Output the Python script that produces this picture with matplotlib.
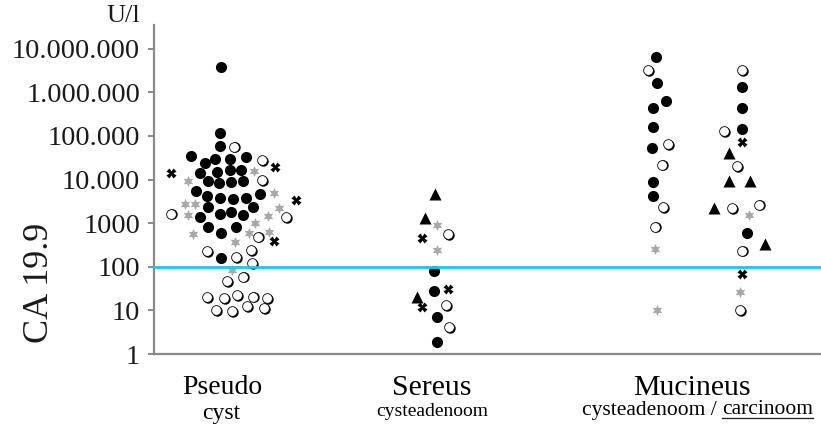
import matplotlib.pyplot as plt
from matplotlib.lines import Line2D
from matplotlib.transforms import offset_copy

plt.rcParams['font.family'] = ['Liberation Serif', 'DejaVu Serif']

# CA 19.9 in U/l; *_dx = horizontal spread of a dot around its group centre
ytick_vals = [1, 10, 100, 1000, 10000, 100000, 1000000, 10000000]
ytick_labels = ['1', '10', '100', '1000', '10.000', '100.000', '1.000.000', '10.000.000']
cutoff = 100

# group centres on the x axis
pseudo_x, sereus_x, mcyst_x, mcarc_x = 222, 434, 655, 741

# Pseudo cyst
pseudo_fill_dx = [-1, -2.5, -2.5, -31.5, -17, -7, 8, 24, -22, -5, 8, 19, -14, -3, 9, 21,
                  -26, -15, -2.5, 11, 23.5, 37.5, -14, 31, -22, -2.5, 9, 20.5, -14, 13.5, -1, -1]
pseudo_fill = [3750000, 118000, 59000, 34000, 23600, 29000, 29000, 32500, 13900, 14700, 16300,
               16300, 9100, 8200, 8600, 9100, 5600, 4200, 3700, 3600, 3800, 4600, 2350, 2330,
               1380, 1660, 1780, 1540, 835, 835, 585, 161]
pseudo_open_dx = [11.5, 40, 40, -51, 63.5, 36, -15, 29, 14, 30, 5, 21, -15, 2, 15, 31, 45, -6, 10, 25, 42]
pseudo_open = [56600, 27700, 9600, 1660, 1350, 490, 225, 243, 167, 119, 46, 59,
               20.4, 19, 22.6, 20.7, 19, 10.2, 9.7, 12.6, 11.2]
pseudo_star_dx = [32, -34, 51.5, -37.5, -27.5, 57, -34.5, 46, 33, -29, 27, 47, 13, 10]
pseudo_star = [15500, 9100, 4900, 2680, 2680, 2230, 1500, 1460, 1005, 576, 607, 640, 363, 85]
pseudo_x_dx = [-51.5, 53, 74, 52]
pseudo_xm = [14400, 19400, 3440, 391]

# Sereus cysteadenoom
sereus_tri_dx = [1, -9, -17]
sereus_tri = [4560, 1300, 20.7]
sereus_star_dx = [3, 3]
sereus_star = [914, 246]
sereus_open_dx = [14, 12, 15]
sereus_open = [567, 13.1, 4.15]
sereus_x_dx = [-12, 14, -12]
sereus_xm = [449, 30.6, 12.2]
sereus_fill_dx = [0, 0, 3, 3]
sereus_fill = [81, 28, 7.05, 1.9]

# Mucineus cysteadenoom
mcyst_fill_dx = [1, 2, 11, -2, -2, -3, -2, -2]
mcyst_fill = [6440000, 1670000, 644000, 444000, 157000, 54300, 8750, 4100]
mcyst_open_dx = [-7, 13, 7, 8, 0]
mcyst_open = [3280000, 64700, 22000, 2320, 835]
mcyst_star_dx = [0, 2]
mcyst_star = [256, 10]

# Mucineus carcinoom
mcarc_open_dx = [1, -17, -4, -9, 18, 1, -1]
mcarc_open = [3280000, 131000, 20100, 2250, 2640, 234, 10]
mcarc_fill_dx = [1, 1, 1, 6]
mcarc_fill = [1310000, 430000, 144000, 585]
mcarc_x_dx = [1, 1]
mcarc_xm = [73100, 70]
mcarc_tri_dx = [-12, -12, 9, -27, 24]
mcarc_tri = [40800, 9230, 9230, 2250, 333]
mcarc_star_dx = [8, -1]
mcarc_star = [1580, 27]

fig = plt.figure(figsize=(8.21, 4.32), dpi=100)
ax = fig.add_axes([154 / 821, 78 / 432, 667 / 821, 329 / 432])
ax.set_yscale('log')
ax.set_ylim(1, 3.5e7)
ax.set_xlim(154, 821)

shadow = offset_copy(ax.transData, fig=fig, x=1.0, y=-0.5, units='points')


def draw(centre, dx, vals, kind):
    xs = [centre + d for d in dx]
    if kind == 'fill':
        ax.plot(xs, vals, 'o', ms=8, color='black', mec='none', zorder=3)
    elif kind == 'open':
        ax.plot(xs, vals, 'o', ms=7.5, color='black', mec='none', transform=shadow, zorder=3)
        ax.plot(xs, vals, 'o', ms=7, mfc='white', mec='black', mew=0.6, zorder=4)
    elif kind == 'star':
        ax.plot(xs, vals, marker=(6, 1, 0), ls='none', ms=8, color='#a8a8a8', mec='none', zorder=3)
    elif kind == 'x':
        ax.plot(xs, vals, 'X', ms=7, color='black', mec='none', zorder=3)
    elif kind == 'tri':
        ax.plot(xs, vals, '^', ms=9, color='black', mec='none', zorder=3)


draw(pseudo_x, pseudo_fill_dx, pseudo_fill, 'fill')
draw(pseudo_x, pseudo_open_dx, pseudo_open, 'open')
draw(pseudo_x, pseudo_star_dx, pseudo_star, 'star')
draw(pseudo_x, pseudo_x_dx, pseudo_xm, 'x')

draw(sereus_x, sereus_tri_dx, sereus_tri, 'tri')
draw(sereus_x, sereus_star_dx, sereus_star, 'star')
draw(sereus_x, sereus_open_dx, sereus_open, 'open')
draw(sereus_x, sereus_x_dx, sereus_xm, 'x')
draw(sereus_x, sereus_fill_dx, sereus_fill, 'fill')

draw(mcyst_x, mcyst_fill_dx, mcyst_fill, 'fill')
draw(mcyst_x, mcyst_open_dx, mcyst_open, 'open')
draw(mcyst_x, mcyst_star_dx, mcyst_star, 'star')

draw(mcarc_x, mcarc_open_dx, mcarc_open, 'open')
draw(mcarc_x, mcarc_fill_dx, mcarc_fill, 'fill')
draw(mcarc_x, mcarc_x_dx, mcarc_xm, 'x')
draw(mcarc_x, mcarc_tri_dx, mcarc_tri, 'tri')
draw(mcarc_x, mcarc_star_dx, mcarc_star, 'star')

ax.axhline(cutoff, color='#18c8f0', lw=2, zorder=5)

for s in ['top', 'right']:
    ax.spines[s].set_visible(False)
for s in ['left', 'bottom']:
    ax.spines[s].set_color('#8a8a8a')
    ax.spines[s].set_linewidth(1.6)

ax.set_yticks(ytick_vals)
ax.set_yticklabels(ytick_labels, fontsize=20.5, color='#1a1a1a')
ax.yaxis.set_minor_locator(plt.NullLocator())
ax.tick_params(axis='y', length=4, width=1.2, color='#777777', pad=6)
ax.set_xticks([])

fig.text(140 / 821, 1 - 16 / 432, 'U/l', ha='right', va='center', fontsize=19, color='#1a1a1a')
fig.text(40 / 821, 1 - 283 / 432, 'CA 19.9', rotation=90, ha='center', va='center',
         fontsize=26, color='#1a1a1a')

fig.text(222 / 821, 1 - 388 / 432, 'Pseudo', ha='center', va='center', fontsize=20)
fig.text(221 / 821, 1 - 414 / 432, 'cyst', ha='center', va='center', fontsize=17)
fig.text(432 / 821, 1 - 388 / 432, 'Sereus', ha='center', va='center', fontsize=21.5)
fig.text(432 / 821, 1 - 412 / 432, 'cysteadenoom', ha='center', va='center', fontsize=14)
fig.text(692 / 821, 1 - 388 / 432, 'Mucineus', ha='center', va='center', fontsize=21.5)
fig.text(722 / 821, 1 - 410 / 432, 'cysteadenoom / ', ha='right', va='center', fontsize=15.5)
carc = fig.text(722 / 821, 1 - 410 / 432, 'carcinoom', ha='left', va='center', fontsize=15.5)

fig.canvas.draw()
bb = carc.get_window_extent().transformed(fig.transFigure.inverted())
fig.add_artist(Line2D([bb.x0, bb.x1], [bb.y0 + 0.004, bb.y0 + 0.004], color='#1a1a1a', lw=0.9,
                      transform=fig.transFigure))

fig.savefig('out.png', dpi=100)
